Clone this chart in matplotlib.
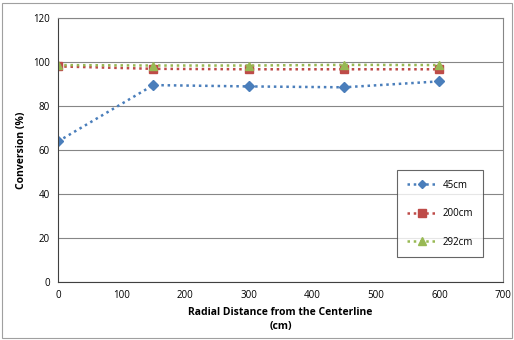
import matplotlib
matplotlib.use("Agg")
import matplotlib.pyplot as plt
from matplotlib.patches import Rectangle

plt.rcParams['font.family'] = ['Open Sans', 'DejaVu Sans']

x = [0, 150, 300, 450, 600]
s45 = [63.9, 89.5, 88.9, 88.5, 91.2]
s200 = [98.0, 96.9, 96.7, 96.7, 96.7]
s292 = [98.6, 98.4, 98.4, 98.7, 98.6]
labels = ["45cm", "200cm", "292cm"]
colors = ["#4a7ebb", "#be4b48", "#98b954"]
markers = ["D", "s", "^"]
xticks = [0, 100, 200, 300, 400, 500, 600, 700]
yticks = [0, 20, 40, 60, 80, 100, 120]

fig = plt.figure(figsize=(5.14, 3.40), dpi=100)
ax = fig.add_axes([58/514, 58/340, 445/514, 264/340])

for ys, lab, c, m in zip([s45, s200, s292], labels, colors, markers):
    ax.plot(x, ys, linestyle=(0, (1, 1.5)), linewidth=1.8, color=c, marker=m,
            markersize=5 if m == "D" else 6, label=lab)

ax.set_xlim(0, 700)
ax.set_ylim(0, 120)
ax.set_xticks(xticks)
ax.set_yticks(yticks)
ax.grid(axis='y', color='#868686', linewidth=0.8)
ax.set_axisbelow(True)
for sp in ax.spines.values():
    sp.set_color('#868686')
ax.spines['left'].set_color('#404040')
ax.spines['bottom'].set_color('#404040')
ax.tick_params(length=0, labelsize=7, pad=6)
ax.set_xlabel("Radial Distance from the Centerline\n(cm)", fontsize=7.5, fontweight='bold', linespacing=1.4)
ax.set_ylabel("Conversion (%)", fontsize=7.5, fontweight='bold')

leg = ax.legend(loc='lower right', bbox_to_anchor=(0.966, 0.075), fontsize=7,
                frameon=True, fancybox=False, labelspacing=1.8, handlelength=3.2,
                borderpad=1.0, handletextpad=0.5, markerscale=0.85)
leg.get_frame().set_edgecolor('#404040')
leg.get_frame().set_linewidth(0.8)

fig.patches.append(Rectangle((2/514, 2/340), 510/514, 335/340, transform=fig.transFigure,
                             fill=False, edgecolor='#a0a0a0', linewidth=0.8))
fig.savefig("out.png", dpi=100)
